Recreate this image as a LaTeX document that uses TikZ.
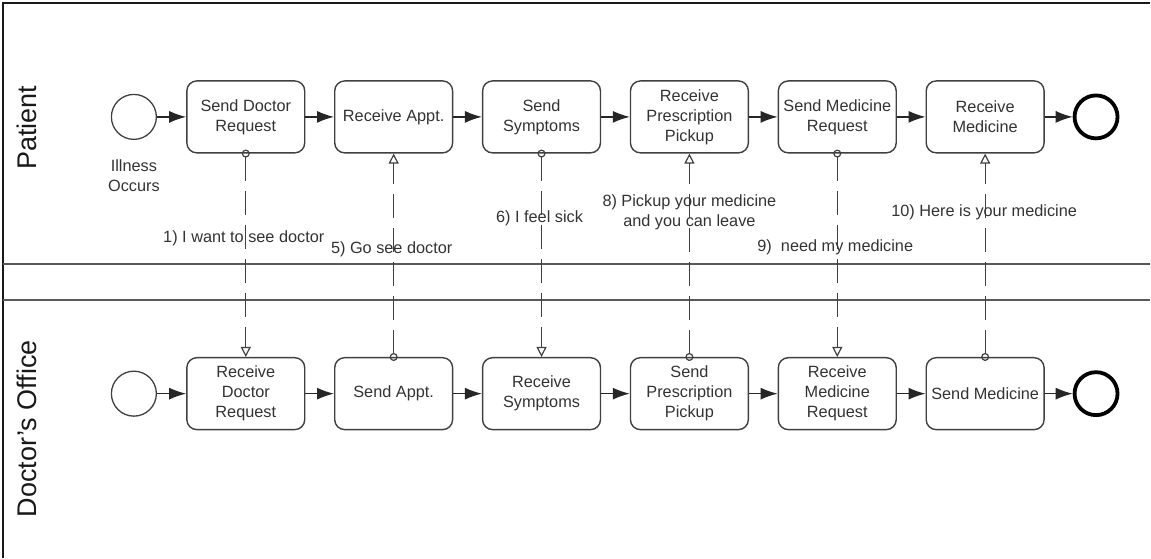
\documentclass[tikz,border=0pt]{standalone}
\usepackage{fontspec}
\setmainfont{Liberation Sans}
\usepackage{tikz}
\usetikzlibrary{arrows.meta,shapes,calc}
\newcommand{\tasktext}{\fontsize{16.3}{20}\selectfont}
\newcommand{\lanetext}{\fontsize{27}{30}\selectfont}

\begin{document}
\begin{tikzpicture}[x=1pt, y=-1pt]
\tikzstyle{task}=[rectangle, rounded corners=10pt, draw=black!75, line width=1.4pt, minimum width=118pt, minimum height=72pt, align=center, font=\tasktext, text=black!80, node distance=148pt]
\tikzstyle{begin}=[circle, draw=black!75, line width=1.3pt, minimum size=45pt, inner sep=0pt]
\tikzstyle{finish}=[circle, draw=black, line width=3.8pt, minimum size=43pt, inner sep=0pt]
\tikzstyle{flow}=[-{Latex[length=17pt, width=12pt]}, line width=1.3pt, draw=black!85]
\tikzstyle{msg}=[{Circle[open, length=8pt, width=8pt]}-{Triangle[open, length=10pt, width=10pt]}, line width=1.2pt, draw=black!75, dash pattern=on 24pt off 10pt, shorten <=-4pt]
\tikzstyle{pool}=[line width=2pt, draw=black!65]
\tikzstyle{lane}=[rotate=90, font=\lanetext, text=black!90]
\tikzstyle{note}=[font=\tasktext, text=black!80, align=center]

  \fill[white] (0,0) rectangle (1151,558);

  % pools
  \draw[pool, draw=black!90] (1151,3) -- (3,3) -- (3,558);
  \draw[pool] (3,264) -- (1151,264);
  \draw[pool] (3,300) -- (1151,300);
  \node[lane] (lp) at (27,128) {Patient};
  \node[lane] (ld) at (27,429) {Doctor's Office};

  % patient
  \node[begin] (p0) at (134,117) {};
  \node[note, node distance=59pt] (ill) [below of =p0] {Illness\\Occurs};
  \node[task, node distance=112pt] (p1) [right of =p0] {Send Doctor\\Request};
  \node[task] (p2) [right of =p1] {Receive Appt.};
  \node[task] (p3) [right of =p2] {Send\\Symptoms};
  \node[task] (p4) [right of =p3] {Receive\\Prescription\\Pickup};
  \node[task] (p5) [right of =p4] {Send Medicine\\Request};
  \node[task] (p6) [right of =p5] {Receive\\Medicine};
  \node[finish, node distance=111pt] (p7) [right of =p6] {};

  % doctor's office
  \node[begin] (d0) at (134,394) {};
  \node[task, node distance=112pt] (d1) [right of =d0] {Receive\\Doctor\\Request};
  \node[task] (d2) [right of =d1] {Send Appt.};
  \node[task] (d3) [right of =d2] {Receive\\Symptoms};
  \node[task] (d4) [right of =d3] {Send\\Prescription\\Pickup};
  \node[task] (d5) [right of =d4] {Receive\\Medicine\\Request};
  \node[task] (d6) [right of =d5] {Send Medicine};
  \node[finish, node distance=111pt] (d7) [right of =d6] {};

  \path (p0) edge [flow] (p1)
        (p1) edge [flow] (p2)
        (p2) edge [flow] (p3)
        (p3) edge [flow] (p4)
        (p4) edge [flow] (p5)
        (p5) edge [flow] (p6)
        (p6) edge [flow] (p7);
  \path (d0) edge [flow] (d1)
        (d1) edge [flow] (d2)
        (d2) edge [flow] (d3)
        (d3) edge [flow] (d4)
        (d4) edge [flow] (d5)
        (d5) edge [flow] (d6)
        (d6) edge [flow] (d7);

  % messages
  \path (p1.south) edge [msg] (d1.north)
        (d2.north) edge [msg] (p2.south)
        (p3.south) edge [msg] (d3.north)
        (d4.north) edge [msg] (p4.south)
        (p5.south) edge [msg] (d5.north)
        (d6.north) edge [msg] (p6.south);

  \node[note] (m1) at (244,238) {1) I want to see doctor};
  \node[note] (m5) at (392,250) {5) Go see doctor};
  \node[note] (m6) at (540,218) {6) I feel sick};
  \node[note] (m8) at (690,212) {8) Pickup your medicine\\and you can leave};
  \node[note] (m9) at (836,248) {9)\ \ need my medicine};
  \node[note] (m10) at (985,212) {10) Here is your medicine};

\end{tikzpicture}
\end{document}
